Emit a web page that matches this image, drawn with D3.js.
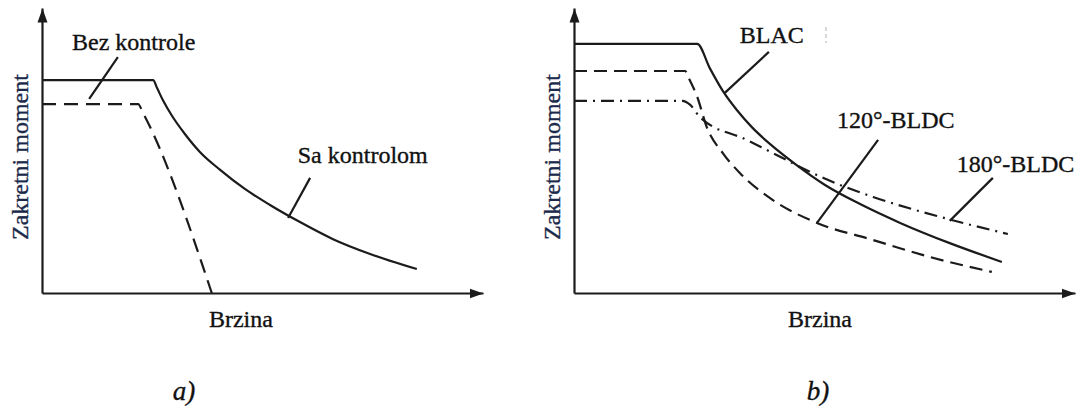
<!DOCTYPE html>
<html>
<head>
<meta charset="utf-8">
<script src="https://cdn.jsdelivr.net/npm/d3@7/dist/d3.min.js"></script>
<style>
  body { margin: 0; background: #fff; }
  svg { display: block; }
  svg text { font-family: 'Liberation Serif', 'Tinos', 'Times New Roman', 'DejaVu Serif', serif; }
</style>
</head>
<body>
<script>
// window size
var wW = 1080;
var wH = 414;

// panel a) - speed / torque values (0..10 units)
var aSolidX = [0, 2.52, 2.61, 2.74, 2.95, 3.24, 3.58, 4.04, 4.60, 5.17, 5.85, 6.60, 7.44, 8.50];
var aSolidY = [7.47, 7.47, 7.19, 6.77, 6.21, 5.58, 4.95, 4.32, 3.65, 3.09, 2.49, 1.89, 1.37, 0.84];
var aDashX = [0, 2.18, 2.29, 3.85];
var aDashY = [6.63, 6.63, 6.32, 0];

// panel b)
var bSolidX = [0, 2.46, 2.71, 2.97, 3.25, 3.55, 3.91, 4.41, 5.01, 5.71, 6.51, 7.50, 8.54];
var bSolidY = [8.74, 8.74, 7.89, 7.09, 6.42, 5.82, 5.23, 4.53, 3.79, 3.12, 2.46, 1.75, 1.09];
var bDashX = [0, 2.22, 2.28, 2.46, 2.65, 2.97, 3.31, 3.97, 4.85, 5.97, 7.11, 8.34];
var bDashY = [7.79, 7.79, 7.58, 6.88, 5.82, 4.91, 4.21, 3.26, 2.46, 1.86, 1.26, 0.74];
var bDotX = [0, 2.16, 2.32, 2.51, 3.45, 3.97, 4.97, 5.97, 7.31, 8.66];
var bDotY = [6.74, 6.74, 6.60, 6.18, 5.37, 4.91, 4.04, 3.37, 2.67, 2.07];

// annotation labels: text, text x/y, leader from -> to (data units)
var aLabels = ['Bez kontrole', 'Sa kontrolom'];
var aLabelPos = [[0.68, 8.53], [5.80, 4.56]];
var aLeaders = [[1.72, 8.28, 1.07, 6.81], [6.08, 4.04, 5.58, 2.63]];

var bLabels = ['BLAC', '120°-BLDC', '180°-BLDC'];
var bLabelPos = [[3.31, 8.77], [5.25, 5.79], [7.64, 4.25]];
var bLeaders = [[3.89, 8.46, 3.01, 7.02], [6.07, 5.37, 4.85, 2.46], [8.36, 4.04, 7.50, 2.53]];

var xTitle = 'Brzina';
var yTitle = 'Zakretni moment';

var ink = '#1b1b1b';

var svg = d3.select('body').append('svg')
  .attr('width', wW)
  .attr('height', wH);

svg.append('defs').append('marker')
  .attr('id', 'arrow')
  .attr('markerUnits', 'userSpaceOnUse')
  .attr('markerWidth', 16)
  .attr('markerHeight', 14)
  .attr('viewBox', '0 -7 16 14')
  .attr('refX', 14)
  .attr('refY', 0)
  .attr('orient', 'auto')
  .append('path')
  .attr('d', 'M0,-5L14,0L0,5Z')
  .attr('fill', ink);

var zip = (xs, ys) => xs.map((x, i) => [x, ys[i]]);

// slightly heavier text, like the scanned original
var addText = (g, color) => g.append('text')
  .attr('font-size', 24)
  .attr('fill', color)
  .attr('stroke', color)
  .attr('stroke-width', 0.35);

/**
 * Draws one panel: axes, curves, labels
 */
var drawPanel = (opts) => {
  var x = d3.scaleLinear().domain([0, 10]).range([opts.x0, opts.x1]);
  var y = d3.scaleLinear().domain([0, 10]).range([293, 8]);
  var g = svg.append('g');

  // axes as bare domain lines with arrowheads
  var xAxis = g.append('g')
    .attr('transform', 'translate(0,' + y(0) + ')')
    .call(d3.axisBottom(x).ticks(0).tickSizeOuter(0));
  var yAxis = g.append('g')
    .attr('transform', 'translate(' + x(0) + ',0)')
    .call(d3.axisLeft(y).ticks(0).tickSizeOuter(0));
  [xAxis, yAxis].forEach((ax) => {
    ax.select('.domain')
      .attr('stroke', ink)
      .attr('stroke-width', 2.2)
      .attr('marker-end', 'url(#arrow)');
  });

  var line = d3.line()
    .x(d => x(d[0]))
    .y(d => y(d[1]))
    .curve(d3.curveMonotoneX);

  opts.series.forEach((s) => {
    g.append('path')
      .attr('d', line(zip(s.xs, s.ys)))
      .attr('fill', 'none')
      .attr('stroke', ink)
      .attr('stroke-width', 2.2)
      .attr('stroke-dasharray', s.dash || null);
  });

  // leaders
  opts.leaders.forEach((l) => {
    g.append('line')
      .attr('x1', x(l[0])).attr('y1', y(l[1]))
      .attr('x2', x(l[2])).attr('y2', y(l[3]))
      .attr('stroke', ink)
      .attr('stroke-width', 2.2);
  });

  // labels
  opts.labels.forEach((t, i) => {
    addText(g, '#111')
      .attr('x', x(opts.labelPos[i][0]))
      .attr('y', y(opts.labelPos[i][1]))
      .text(t);
  });

  // axis titles
  addText(g, '#111')
    .attr('x', x(opts.xTitleAt))
    .attr('y', 327)
    .style('text-anchor', 'middle')
    .text(xTitle);

  addText(g, '#1b2a4a')
    .attr('transform', 'translate(' + (x(0) - 14) + ',' + y(4.77) + ') rotate(-90)')
    .style('text-anchor', 'middle')
    .text(yTitle);

  // caption
  addText(g, '#111')
    .attr('x', opts.captionX)
    .attr('y', 400)
    .attr('font-size', 27)
    .attr('font-style', 'italic')
    .style('text-anchor', 'middle')
    .text(opts.caption);

  return { x: x, y: y, g: g };
};

drawPanel({
  x0: 42, x1: 483,
  series: [
    { xs: aSolidX, ys: aSolidY },
    { xs: aDashX, ys: aDashY, dash: '14,8' }
  ],
  labels: aLabels, labelPos: aLabelPos, leaders: aLeaders,
  xTitleAt: 4.51,
  caption: 'a)', captionX: 184
});

var pb = drawPanel({
  x0: 574, x1: 1075,
  series: [
    { xs: bSolidX, ys: bSolidY },
    { xs: bDashX, ys: bDashY, dash: '13,7' },
    { xs: bDotX, ys: bDotY, dash: '13,6,2,6' }
  ],
  labels: bLabels, labelPos: bLabelPos, leaders: bLeaders,
  xTitleAt: 4.91,
  caption: 'b)', captionX: 818
});

// faint scan mark right of BLAC
pb.g.append('line')
  .attr('x1', 826).attr('y1', 27)
  .attr('x2', 826).attr('y2', 43)
  .attr('stroke', '#ccc')
  .attr('stroke-width', 1.5)
  .attr('stroke-dasharray', '4,3');
</script>
</body>
</html>
